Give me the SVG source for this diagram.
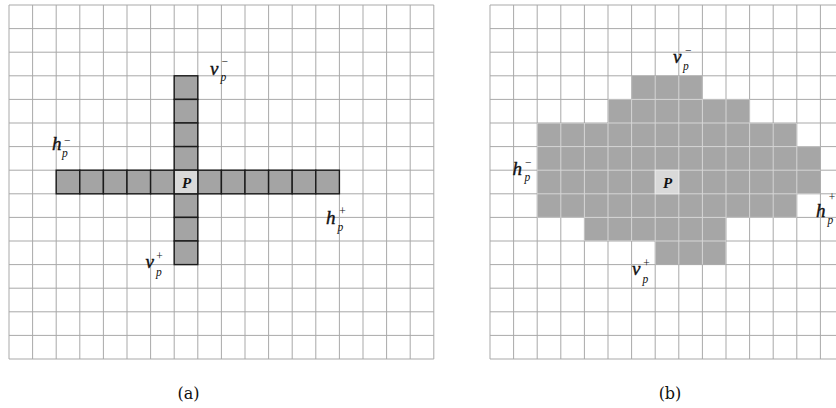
<svg xmlns="http://www.w3.org/2000/svg" width="836" height="408" viewBox="0 0 836 408">
<style>
.grid{fill:none;stroke:#a9a9a9;stroke-width:1}
.lgrid{fill:none;stroke:#d6d6d6;stroke-width:1}
.cell{fill:#a4a4a4;stroke:#1a1a1a;stroke-width:1.4}
.pcell{fill:#d9d9d9;stroke:#1a1a1a;stroke-width:1.4}
.shade{fill:#a6a6a6}
.pcellb{fill:#d9d9d9;stroke:#ececec;stroke-width:1}
.m{font-family:"Liberation Serif","Times New Roman",serif;font-style:italic;font-size:19px;fill:#111;stroke:#111;stroke-width:0.4}
.s{font-family:"Liberation Serif","Times New Roman",serif;font-style:italic;font-size:11.5px;fill:#111}
.P{font-family:"Liberation Serif","Times New Roman",serif;font-style:italic;font-weight:bold;font-size:15px;fill:#111;text-anchor:middle}
.cap{font-family:"DejaVu Serif",serif;font-size:16px;fill:#111;text-anchor:middle}
</style>
<defs>
<clipPath id="shapeClip">
<rect x="631.6" y="75.8" width="70.8" height="23.6"/>
<rect x="608" y="99.4" width="141.6" height="23.6"/>
<rect x="537.2" y="123" width="259.6" height="23.6"/>
<rect x="537.2" y="146.6" width="283.2" height="47.2"/>
<rect x="537.2" y="193.8" width="259.6" height="23.6"/>
<rect x="584.4" y="217.4" width="141.6" height="23.6"/>
<rect x="655.2" y="241" width="70.8" height="23.6"/>
</clipPath>
</defs>
<rect width="836" height="408" fill="#fff"/>

<g id="panel-a">
<path class="grid" d="M9 5V359M32.6 5V359M56.2 5V359M79.8 5V359M103.4 5V359M127 5V359M150.6 5V359M174.2 5V359M197.8 5V359M221.4 5V359M245 5V359M268.6 5V359M292.2 5V359M315.8 5V359M339.4 5V359M363 5V359M386.6 5V359M410.2 5V359M433.8 5V359
M9 5H433.8M9 28.6H433.8M9 52.2H433.8M9 75.8H433.8M9 99.4H433.8M9 123H433.8M9 146.6H433.8M9 170.2H433.8M9 193.8H433.8M9 217.4H433.8M9 241H433.8M9 264.6H433.8M9 288.2H433.8M9 311.8H433.8M9 335.4H433.8M9 359H433.8"/>
<g id="cross-a">
<rect class="cell" x="174.2" y="75.8" width="23.6" height="23.6"/>
<rect class="cell" x="174.2" y="99.4" width="23.6" height="23.6"/>
<rect class="cell" x="174.2" y="123" width="23.6" height="23.6"/>
<rect class="cell" x="174.2" y="146.6" width="23.6" height="23.6"/>
<rect class="cell" x="174.2" y="193.8" width="23.6" height="23.6"/>
<rect class="cell" x="174.2" y="217.4" width="23.6" height="23.6"/>
<rect class="cell" x="174.2" y="241" width="23.6" height="23.6"/>
<rect class="cell" x="56.2" y="170.2" width="23.6" height="23.6"/>
<rect class="cell" x="79.8" y="170.2" width="23.6" height="23.6"/>
<rect class="cell" x="103.4" y="170.2" width="23.6" height="23.6"/>
<rect class="cell" x="127" y="170.2" width="23.6" height="23.6"/>
<rect class="cell" x="150.6" y="170.2" width="23.6" height="23.6"/>
<rect class="cell" x="197.8" y="170.2" width="23.6" height="23.6"/>
<rect class="cell" x="221.4" y="170.2" width="23.6" height="23.6"/>
<rect class="cell" x="245" y="170.2" width="23.6" height="23.6"/>
<rect class="cell" x="268.6" y="170.2" width="23.6" height="23.6"/>
<rect class="cell" x="292.2" y="170.2" width="23.6" height="23.6"/>
<rect class="cell" x="315.8" y="170.2" width="23.6" height="23.6"/>
</g>
<g id="p-a">
<rect class="pcell" x="174.2" y="170.2" width="23.6" height="23.6"/>
<text class="P" x="186.5" y="187.5">P</text>
</g>
<g id="labels-a">
<text class="m" x="210" y="75">v</text><text class="s" x="221" y="65">−</text><text class="s" x="220.5" y="81">p</text>
<text class="m" x="52" y="150">h</text><text class="s" x="63.5" y="144">−</text><text class="s" x="62" y="157">p</text>
<text class="m" x="326" y="224">h</text><text class="s" x="338.5" y="215">+</text><text class="s" x="337.5" y="230.5">p</text>
<text class="m" x="145.5" y="268.3">v</text><text class="s" x="155.5" y="260">+</text><text class="s" x="156" y="276">p</text>
</g>
<text id="cap-a" class="cap" x="188.5" y="399">(a)</text>
</g>

<g id="panel-b">
<path class="grid" d="M490 5V359M513.6 5V359M537.2 5V359M560.8 5V359M584.4 5V359M608 5V359M631.6 5V359M655.2 5V359M678.8 5V359M702.4 5V359M726 5V359M749.6 5V359M773.2 5V359M796.8 5V359M820.4 5V359
M490 5H836M490 28.6H836M490 52.2H836M490 75.8H836M490 99.4H836M490 123H836M490 146.6H836M490 170.2H836M490 193.8H836M490 217.4H836M490 241H836M490 264.6H836M490 288.2H836M490 311.8H836M490 335.4H836M490 359H836"/>
<g id="region-b">
<rect class="shade" x="490" y="5" width="346" height="354" clip-path="url(#shapeClip)"/>
<path class="lgrid" clip-path="url(#shapeClip)" d="M537.2 5V359M560.8 5V359M584.4 5V359M608 5V359M631.6 5V359M655.2 5V359M678.8 5V359M702.4 5V359M726 5V359M749.6 5V359M773.2 5V359M796.8 5V359
M490 99.4H836M490 123H836M490 146.6H836M490 170.2H836M490 193.8H836M490 217.4H836M490 241H836"/>
</g>
<g id="p-b">
<rect class="pcellb" x="655.2" y="170.2" width="23.6" height="23.6"/>
<text class="P" x="667.5" y="187.5">P</text>
</g>
<g id="labels-b">
<text class="m" x="673" y="63.3">v</text><text class="s" x="684.5" y="54">−</text><text class="s" x="683" y="70">p</text>
<text class="m" x="512.5" y="175">h</text><text class="s" x="524.5" y="166">−</text><text class="s" x="524.5" y="181">p</text>
<text class="m" x="816" y="216.7">h</text><text class="s" x="828" y="200.5">+</text><text class="s" x="827.5" y="223.5">p</text>
<text class="m" x="632" y="275">v</text><text class="s" x="642.5" y="267">+</text><text class="s" x="642.5" y="283">p</text>
</g>
<text id="cap-b" class="cap" x="670" y="399">(b)</text>
</g>
</svg>
